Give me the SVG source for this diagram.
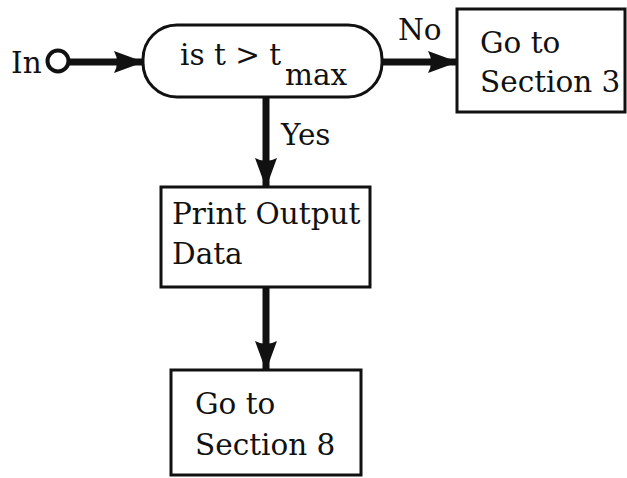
<svg xmlns="http://www.w3.org/2000/svg" width="627" height="478" viewBox="0 0 627 478">
  <style>
    .box { fill: #fff; stroke: #111; stroke-width: 3; }
    .wire { stroke: #111; stroke-width: 7; fill: none; }
    .lbl { font-family: "DejaVu Serif", "Liberation Serif", serif; font-size: 29.5px; fill: #111; }
  </style>
  <defs>
    <marker id="head" viewBox="0 0 30 22" refX="29" refY="11" markerWidth="30" markerHeight="22" markerUnits="userSpaceOnUse" orient="auto">
      <path d="M0,0 L30,11 L0,22 Q6,11 0,0 Z" fill="#111"/>
    </marker>
  </defs>
  <rect width="627" height="478" fill="#fff"/>

  <!-- connectors -->
  <g id="connectors">
    <line class="wire" x1="68" y1="62" x2="143" y2="62" marker-end="url(#head)"/>
    <line class="wire" x1="382" y1="62" x2="457" y2="62" marker-end="url(#head)"/>
    <line class="wire" x1="266" y1="97" x2="266" y2="187" marker-end="url(#head)"/>
    <line class="wire" x1="266" y1="287" x2="266" y2="370" marker-end="url(#head)"/>
    <text class="lbl" x="398" y="40">No</text>
    <text class="lbl" x="281" y="145">Yes</text>
  </g>

  <!-- entry point -->
  <g id="in">
    <text class="lbl" x="11" y="73">In</text>
    <circle cx="58" cy="61" r="10.5" fill="#fff" stroke="#111" stroke-width="4"/>
  </g>

  <!-- decision terminal -->
  <g id="test">
    <rect class="box" x="143" y="25" width="239" height="72" rx="34" ry="34"/>
    <text class="lbl" x="180" y="65">is t &gt; t</text>
    <text class="lbl" x="285" y="85">max</text>
  </g>

  <g id="section3">
    <rect class="box" x="457" y="9" width="168" height="103"/>
    <text class="lbl" x="480" y="53">Go to</text>
    <text class="lbl" x="480" y="92">Section 3</text>
  </g>

  <g id="print">
    <rect class="box" x="161" y="187" width="209" height="100"/>
    <text class="lbl" x="172" y="224">Print Output</text>
    <text class="lbl" x="172" y="264">Data</text>
  </g>

  <g id="section8">
    <rect class="box" x="171" y="370" width="190" height="105"/>
    <text class="lbl" x="195" y="414">Go to</text>
    <text class="lbl" x="195" y="455">Section 8</text>
  </g>
</svg>
